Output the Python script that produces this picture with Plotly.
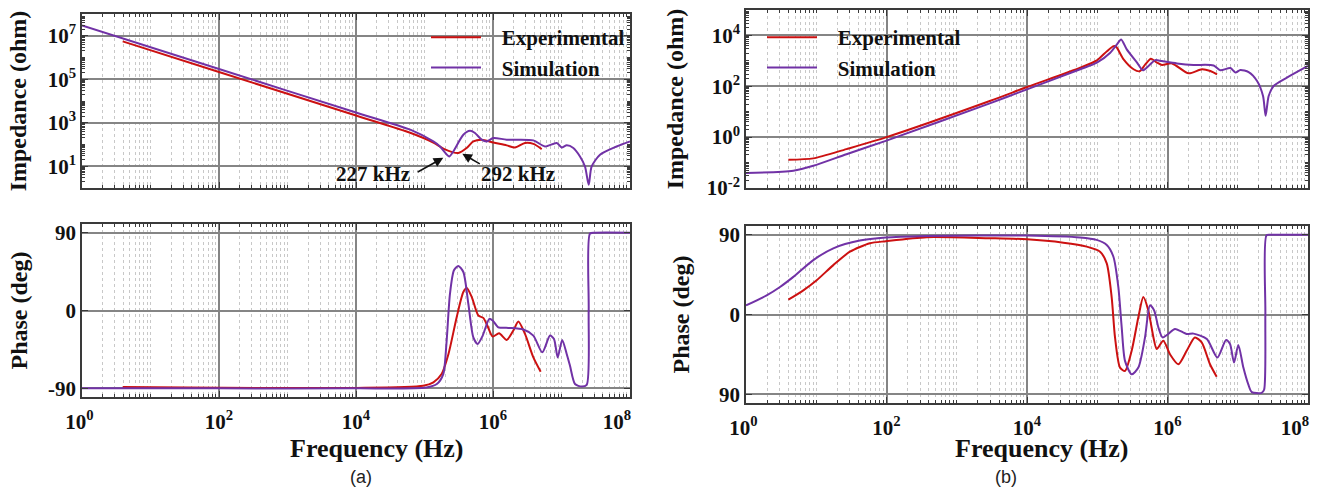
import numpy as np
import plotly.graph_objects as go

# ---------------- data (log10 frequency, log10 |Z| / phase in deg) ----------------
# Panel (a) impedance
a_exp_logf = [0.594, 2.0, 4.0, 4.8, 5.129, 5.29, 5.494, 5.616, 5.713, 5.835, 6.005, 6.2, 6.321, 6.467, 6.589, 6.711]
a_exp_logz = [6.74, 5.334, 3.334, 2.53, 2.09, 1.79, 1.61, 1.84, 2.14, 2.22, 2.09, 1.96, 1.86, 2.07, 2.03, 1.79]
a_sim_logf = [0.0, 2.0, 4.0, 4.8, 5.129, 5.226, 5.36, 5.42, 5.567, 5.664, 5.737, 5.835, 5.908, 6.005, 6.2, 6.589,
              6.759, 6.93, 7.003, 7.076, 7.173, 7.27, 7.343, 7.397, 7.44, 7.562, 7.806, 8.0]
a_sim_logz = [7.47, 5.47, 3.47, 2.67, 2.14, 1.91, 1.45, 1.68, 2.45, 2.63, 2.53, 2.22, 2.14, 2.30, 2.22, 2.19,
              1.91, 2.07, 1.86, 1.96, 1.84, 1.45, 0.99, 0.15, 0.99, 1.53, 1.91, 2.14]

# Panel (a) phase
a_exp_ph_logf = [0.594, 2.0, 4.0, 4.98, 5.13, 5.25, 5.35, 5.47, 5.567, 5.616, 5.69, 5.786, 5.858, 5.917, 5.995,
                 6.088, 6.2, 6.297, 6.37, 6.467, 6.589, 6.696]
a_exp_ph = [-88.3, -89.3, -89.5, -87, -83, -73.5, -50.3, -7.7, 21.3, 25.9, 15.5, -5.8, -8.5, -17.4, -30.2,
            -26.3, -34, -23.2, -12.8, -27.1, -54.2, -70.8]
a_sim_ph_logf = [0, 2, 4, 5.03, 5.18, 5.274, 5.32, 5.372, 5.43, 5.494, 5.567, 5.64, 5.713, 5.776, 5.85, 5.946,
                 5.995, 6.078, 6.224, 6.443, 6.589, 6.72, 6.832, 6.89, 6.945, 7.01, 7.076, 7.124, 7.197, 7.295,
                 7.368, 7.397, 7.416, 7.49, 8.0]
a_sim_ph = [-90, -90, -90, -89, -85, -73.5, -38.7, 19.4, 46.5, 51.5, 44.5, 7.8, -31, -38.7, -29, -9.7,
            -11.6, -19.4, -20.1, -22, -29, -48.4, -29, -32.9, -54.2, -34, -50.3, -63.9, -85, -88,
            -86, 0, 89, 90, 90]

# Panel (b) impedance
b_exp_logf = [0.603, 0.958, 1.43, 1.99, 3.47, 4.0, 4.758, 4.995, 5.138, 5.233, 5.27, 5.375, 5.517, 5.603,
              5.684, 5.765, 5.85, 5.92, 6.064, 6.30, 6.49, 6.61, 6.705]
b_exp_logz = [-0.89, -0.835, -0.47, -0.01, 1.42, 1.97, 2.73, 3.02, 3.38, 3.58, 3.55, 3.06, 2.67, 2.59,
              2.86, 3.08, 2.93, 2.84, 2.90, 2.51, 2.67, 2.60, 2.47]
b_sim_logf = [0, 0.674, 0.958, 1.43, 1.99, 3.47, 4.0, 4.758, 4.995, 5.185, 5.28, 5.34, 5.42, 5.566, 5.65,
              5.73, 5.826, 5.92, 6.135, 6.37, 6.657, 6.752, 6.895, 6.966, 7.037, 7.155, 7.275, 7.36, 7.397,
              7.44, 7.51, 7.70, 8.0]
b_sim_logz = [-1.41, -1.32, -1.125, -0.67, -0.145, 1.33, 1.88, 2.67, 2.93, 3.32, 3.65, 3.84, 3.45, 2.93, 2.63,
              2.80, 3.03, 2.99, 2.90, 2.84, 2.82, 2.63, 2.72, 2.54, 2.64, 2.56, 2.21, 1.62, 0.84,
              1.62, 2.01, 2.34, 2.80]

# Panel (b) phase
b_exp_ph_logf = [0.603, 0.816, 1.006, 1.243, 1.48, 1.765, 1.99, 2.57, 3.47, 4.0, 4.517, 4.85, 5.04, 5.135,
                 5.205, 5.253, 5.324, 5.395, 5.49, 5.585, 5.656, 5.727, 5.8, 5.846, 5.94, 6.036, 6.154,
                 6.273, 6.39, 6.487, 6.605, 6.70]
b_exp_ph = [16.7, 27.3, 38.7, 55.8, 71, 80.5, 82.8, 87.4, 86.2, 85, 81.2, 76.7, 71, 57.8,
            19.7, -25.9, -60, -63.8, -41, -3, 19.7, 4.6, -25.9, -39, -29.6, -45, -56.2,
            -41, -25.9, -31.6, -56.2, -70.3]
b_sim_ph_logf = [0, 0.294, 0.484, 0.674, 0.958, 1.243, 1.62, 1.99, 2.57, 3.33, 4.0, 4.755, 4.99, 5.135, 5.23,
                 5.30, 5.348, 5.395, 5.49, 5.585, 5.68, 5.75, 5.81, 5.87, 5.93, 6.01, 6.107, 6.273, 6.37,
                 6.56, 6.71, 6.833, 6.89, 6.947, 7.008, 7.08, 7.15, 7.20, 7.34, 7.375, 7.393, 7.41, 7.48, 8.0]
b_sim_ph = [10.3, 21.6, 31.1, 42.5, 61.5, 74.8, 83.5, 86.9, 88.6, 89.3, 89.2, 87, 84.3, 78.6, 65.3,
            31.1, -14.5, -52.4, -67.6, -60, -25.9, 10.3, 4.6, -14.5, -25.9, -22, -16.3, -22, -21.6,
            -27.7, -48.6, -28.8, -33.4, -54.3, -34.5, -60, -79, -87.7, -88.5, -85, 0, 89.5, 90, 90]

series_names = ["Experimental", "Simulation"]
NB = "\u00a0"
x_tick_vals = [1, 1e2, 1e4, 1e6, 1e8]
x_tick_text = ["10<sup>0</sup>" + NB, "10<sup>2</sup>", "10<sup>4</sup>", "10<sup>6</sup>",
               "10<sup>8</sup>" + NB * 5]
ya_tick_vals = [1e1, 1e3, 1e5, 1e7]
ya_tick_text = ["10<sup>1</sup>", "10<sup>3</sup>", "10<sup>5</sup>", "10<sup>7</sup>"]
yb_tick_vals = [1e-2, 1, 1e2, 1e4]
yb_tick_text = ["10<sup>-2</sup>", "10<sup>0</sup>", "10<sup>2</sup>", "10<sup>4</sup>"]
ph_tick_vals = [-90, 0, 90]
pha_tick_text = ["-90", "0", "90"]
phb_tick_text = ["90", "0", "90"]

# ---------------- styling ----------------
RED = "#CC1111"
PURPLE = "#7132A6"
SERIF = "Liberation Serif"
FRAME = "#3a3a3a"
GRID = "#858585"
MINOR_GRID = "#c8c8c8"

def p10(v):
    return np.power(10.0, np.array(v, dtype=float))

x_minor = [m * 10.0 ** d for d in range(0, 8) for m in range(2, 10)] + [10.0 ** d for d in (1, 3, 5, 7)]
ya_minor = [m * 10.0 ** d for d in range(0, 8) for m in range(2, 10)] + [10.0 ** d for d in (0, 2, 4, 6, 8)]
yb_minor = [m * 10.0 ** d for d in range(-2, 5) for m in range(2, 10)] + [10.0 ** d for d in (-1, 1, 3, 5)]

fig = go.Figure()

def line(x, y, color, xa, ya, name, legend, show):
    fig.add_trace(go.Scatter(x=x, y=y, mode="lines", name=NB * 3 + name, legend=legend, showlegend=show,
                             line=dict(color=color, width=2, shape="spline", smoothing=0.7),
                             xaxis=xa, yaxis=ya, hoverinfo="skip"))

line(p10(a_exp_logf), p10(a_exp_logz), RED, "x", "y", series_names[0], "legend", True)
line(p10(a_sim_logf), p10(a_sim_logz), PURPLE, "x", "y", series_names[1], "legend", True)
line(p10(a_exp_ph_logf), a_exp_ph, RED, "x2", "y2", series_names[0], "legend", False)
line(p10(a_sim_ph_logf), a_sim_ph, PURPLE, "x2", "y2", series_names[1], "legend", False)
line(p10(b_exp_logf), p10(b_exp_logz), RED, "x3", "y3", series_names[0], "legend2", True)
line(p10(b_sim_logf), p10(b_sim_logz), PURPLE, "x3", "y3", series_names[1], "legend2", True)
line(p10(b_exp_ph_logf), b_exp_ph, RED, "x4", "y4", series_names[0], "legend2", False)
line(p10(b_sim_ph_logf), b_sim_ph, PURPLE, "x4", "y4", series_names[1], "legend2", False)

W, H = 1320, 487
def px_x(a, b):
    return [a / W, b / W]
def px_y(top, bottom):
    return [1 - bottom / H, 1 - top / H]

tick_font = dict(family=SERIF, size=21, color="#111", weight="bold")
title_font = dict(family=SERIF, size=24, color="#111", weight="bold")

def xaxis(domain, anchor, labels):
    return dict(type="log", domain=domain, anchor=anchor, range=[0, 8], automargin=False,
                tickmode="array", tickvals=x_tick_vals, ticktext=x_tick_text,
                showticklabels=labels, tickfont=tick_font, ticklabelstandoff=5,
                ticklabeloverflow="allow",
                ticks="inside", ticklen=6, tickcolor=FRAME, tickwidth=1,
                showgrid=True, gridcolor=GRID, gridwidth=1.5,
                minor=dict(tickmode="array", tickvals=x_minor, ticks="inside", ticklen=3,
                           tickcolor=FRAME, showgrid=True, gridcolor=MINOR_GRID, griddash="dot", gridwidth=1),
                showline=True, linecolor=FRAME, linewidth=1.6, mirror="allticks", zeroline=False)

def yaxis_log(domain, anchor, rng, vals, text, minor, title, standoff):
    return dict(type="log", domain=domain, anchor=anchor, range=rng, automargin=False,
                tickmode="array", tickvals=vals, ticktext=text, tickfont=tick_font,
                ticks="inside", ticklen=6, tickcolor=FRAME,
                showgrid=True, gridcolor=GRID, gridwidth=1.5,
                minor=dict(tickmode="array", tickvals=minor, ticks="inside", ticklen=3,
                           tickcolor=FRAME, showgrid=False),
                showline=True, linecolor=FRAME, linewidth=1.6, mirror="allticks", zeroline=False,
                title=dict(text=title, font=title_font, standoff=standoff))

def yaxis_ph(domain, anchor, text, standoff):
    return dict(domain=domain, anchor=anchor, range=[-100, 100], automargin=False,
                tickmode="array", tickvals=ph_tick_vals, ticktext=text, tickfont=tick_font,
                ticks="inside", ticklen=6, tickcolor=FRAME,
                showgrid=True, gridcolor=GRID, gridwidth=1.5,
                showline=True, linecolor=FRAME, linewidth=1.6, mirror="allticks", zeroline=False,
                title=dict(text="Phase (deg)", font=title_font, standoff=standoff))

xa_dom = px_x(82, 630)
xb_dom = px_x(746, 1308)

legend_font = dict(family=SERIF, size=21, color="#111", weight="bold")
fig.update_layout(
    width=W, height=H, margin=dict(l=0, r=0, t=0, b=0, autoexpand=False),
    paper_bgcolor="white", plot_bgcolor="white",
    xaxis=xaxis(xa_dom, "y", False),
    yaxis=yaxis_log(px_y(14, 188), "x", [0, 8], ya_tick_vals, ya_tick_text, ya_minor, "Impedance (ohm)", 14),
    xaxis2=xaxis(xa_dom, "y2", True),
    yaxis2=yaxis_ph(px_y(224, 397), "x2", pha_tick_text, 14),
    xaxis3=xaxis(xb_dom, "y3", False),
    yaxis3=yaxis_log(px_y(10, 188), "x3", [-2, 5], yb_tick_vals, yb_tick_text, yb_minor, "Impedance (ohm)", 16),
    xaxis4=xaxis(xb_dom, "y4", True),
    yaxis4=yaxis_ph(px_y(226, 403), "x4", phb_tick_text, 23),
    legend=dict(x=426 / W, y=1 - 17 / H, xanchor="left", yanchor="top", bgcolor="rgba(0,0,0,0)",
                font=legend_font, itemwidth=50, tracegroupgap=0),
    legend2=dict(x=762 / W, y=1 - 17 / H, xanchor="left", yanchor="top", bgcolor="rgba(0,0,0,0)",
                 font=legend_font, itemwidth=50, tracegroupgap=0),
    showlegend=True,
)

ann_font = dict(family=SERIF, size=21, color="#111", weight="bold")
annotations = [
    # resonance markers (a)
    dict(x=5.274, y=1.39, xref="x", yref="y", ax=-27, ay=15, text="", showarrow=True,
         arrowhead=2, arrowsize=1.2, arrowwidth=1.6, arrowcolor="#111"),
    dict(x=5.552, y=1.575, xref="x", yref="y", ax=19, ay=11, text="", showarrow=True,
         arrowhead=2, arrowsize=1.2, arrowwidth=1.6, arrowcolor="#111"),
    dict(x=4.248, y=0.655, xref="x", yref="y", text="227 kHz", showarrow=False, font=ann_font),
    dict(x=6.365, y=0.655, xref="x", yref="y", text="292 kHz", showarrow=False, font=ann_font),
    # x titles
    dict(x=377 / W, y=1 - 448 / H, xref="paper", yref="paper", text="Frequency (Hz)", showarrow=False,
         font=dict(family=SERIF, size=26, color="#111", weight="bold"), xanchor="center", yanchor="middle"),
    dict(x=1042 / W, y=1 - 448 / H, xref="paper", yref="paper", text="Frequency (Hz)", showarrow=False,
         font=dict(family=SERIF, size=26, color="#111", weight="bold"), xanchor="center", yanchor="middle"),
    # captions
    dict(x=361 / W, y=1 - 477 / H, xref="paper", yref="paper", text="(a)", showarrow=False,
         font=dict(family="Liberation Sans", size=18, color="#222"), xanchor="center", yanchor="middle"),
    dict(x=1006 / W, y=1 - 477 / H, xref="paper", yref="paper", text="(b)", showarrow=False,
         font=dict(family="Liberation Sans", size=18, color="#222"), xanchor="center", yanchor="middle"),
]
fig.update_layout(annotations=annotations)

fig.write_html("out.html")
